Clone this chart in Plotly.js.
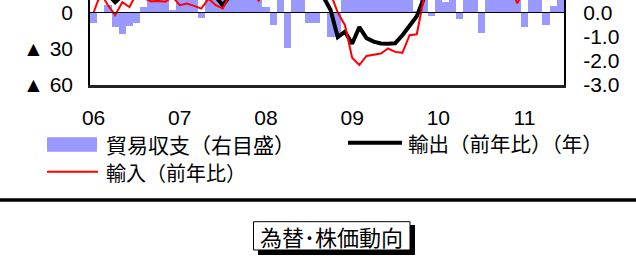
<!DOCTYPE html>
<html><head><meta charset="utf-8">
<script src="https://cdn.plot.ly/plotly-3.0.1.min.js"></script>
<style>
html,body{margin:0;padding:0;overflow:hidden;background:#fff;width:636px;height:260px;}
#chart{position:absolute;left:0;top:-100px;width:636px;height:360px;}
</style></head><body><div id="chart"></div>
<script>
const months = [
 '2006/01','2006/02','2006/03','2006/04','2006/05','2006/06','2006/07','2006/08','2006/09','2006/10','2006/11','2006/12',
 '2007/01','2007/02','2007/03','2007/04','2007/05','2007/06','2007/07','2007/08','2007/09','2007/10','2007/11','2007/12',
 '2008/01','2008/02','2008/03','2008/04','2008/05','2008/06','2008/07','2008/08','2008/09','2008/10','2008/11','2008/12',
 '2009/01','2009/02','2009/03','2009/04','2009/05','2009/06','2009/07','2009/08','2009/09','2009/10','2009/11','2009/12',
 '2010/01','2010/02','2010/03','2010/04','2010/05','2010/06','2010/07','2010/08','2010/09','2010/10','2010/11','2010/12',
 '2011/01','2011/02','2011/03','2011/04','2011/05','2011/06'];

// 貿易収支（右目盛）
const tradeBalance = [
 -0.44, 0.02, 0.30, -0.60, -0.88, -0.55, -0.42, 0.23, 0.75, 0.90, 0.80, 0.10,
  0.85, 0.90, 0.95, -0.21, 0.70, 1.00, 0.90, 1.05, 0.95, 1.10, 0.90, 0.80,
  0.23, -0.50, 0.80, -1.46, 0.70, 0.60, -0.45, -0.43, 0.00, -1.00, -1.00, 0.70,
  0.80, 0.90, 0.85, 0.90, 0.95, 0.80, 0.85, 0.90, 0.75, 0.08, 0.70, -0.14,
  0.80, 0.43, 0.90, -0.28, 0.80, 0.90, -0.84, 0.80, 0.90, 0.85, 0.90, 0.80,
 -0.60, 0.90, 0.80, -0.52, 0.26, 0.70];

// 輸出（前年比）
const exportsYoY = [
 18, 22, 15, 8.5, 14, 20, 16, 18, 20, 15, 17, 14,
 16, 14, 18, 20, 15, 13, 6, 14, 18, 16, 13, 17,
 15, 14, 18, 14, 13, 16, 17, 15, 13, 2, -20.4, -15.9,
 -25.8, -12.1, -21.2, -24.1, -25.6, -25.8, -25.4, -18.8, -10.5, -3.1, 12, 25,
 35, 40, 38, 33, 28, 25, 20, 18, 16, 15, 18, 14,
 13, 15, 13, 16, 18, 14];

// 輸入（前年比）
const importsYoY = [
 0, 16, 6, -2.2, 8.5, 4.5, 16, 12, 9.2, 9.6, 9.0, 13,
 6, 7.4, 5.5, 3.2, 11.5, 6, 3.3, 16, 18, 15, 17, 9.8,
 20, 22, 25, 18, 22, 28, 30, 24, 20, 15.7, 0, -10.5,
 -37.4, -43.5, -36, -35.3, -34, -29.8, -32.6, -33.4, -18.8, -18, 12, 25,
 35, 40, 38, 32, 30, 28, 25, 22, 20, 18, 22, 7.5,
 20, 18, 15, 14, 16, 18];

const yearTicks = ['2006/01','2007/01','2008/01','2009/01','2010/01','2011/01'];
const yearLabels = ['06','07','08','09','10','11'];
const leftTickVals = [-60, -30, 0];
const leftTickText = ['▲ 60', '▲ 30', '0'];
const rightTickVals = [-3, -2, -1, 0];
const rightTickText = ['-3.0', '-2.0', '-1.0', '0.0'];

const LATIN = 'Liberation Sans, Arial, DejaVu Sans, sans-serif';
const CJK = 'Noto Sans CJK JP, sans-serif';

// page-pixel -> paper helpers (plot area: x 90..564, y -60..85 on the page)
const PL = 90, PW = 474, PB = 85, PH = 145;
const px = x => (x - PL) / PW;
const py = y => (PB - y) / PH;

const traces = [
 {type:'bar', x: months, y: tradeBalance, yaxis:'y', name:'貿易収支（右目盛）',
  marker:{color:'#9999FF', line:{width:0}}},
 {type:'scatter', mode:'lines', x: months, y: exportsYoY, yaxis:'y2', name:'輸出（前年比）',
  line:{color:'#000000', width:4}},
 {type:'scatter', mode:'lines', x: months, y: importsYoY, yaxis:'y2', name:'輸入（前年比）',
  line:{color:'#FF0000', width:2}}
];

const layout = {
 width:636, height:360,
 margin:{l:90, r:72, t:40, b:175, pad:0},
 paper_bgcolor:'#fff', plot_bgcolor:'#fff',
 showlegend:false, hovermode:false, bargap:0,
 font:{family:LATIN, size:21, color:'#000'},
 xaxis:{type:'category', tickvals:yearTicks, ticktext:yearLabels, ticks:'',
   showgrid:false, zeroline:false, showline:true, linecolor:'#222', linewidth:3, mirror:true,
   ticklabelstandoff:12, tickfont:{family:LATIN, size:21, color:'#000'}},
 yaxis:{side:'right', range:[-3,3], tickvals:rightTickVals, ticktext:rightTickText, ticks:'',
   showgrid:false, zeroline:false, showline:true, linecolor:'#000', linewidth:2, mirror:true,
   ticklabelstandoff:13, tickfont:{family:LATIN, size:21, color:'#000'}},
 yaxis2:{overlaying:'y', side:'left', range:[-60,60], tickvals:leftTickVals, ticktext:leftTickText, ticks:'',
   showgrid:false, zeroline:false, showline:false,
   ticklabelstandoff:16, tickfont:{family:LATIN, size:21, color:'#000'}},
 shapes:[
  {type:'line', xref:'paper', yref:'y', x0:0, x1:1, y0:0, y1:0, line:{color:'#000', width:1}, layer:'above'},
  {type:'rect', xref:'paper', yref:'paper', x0:px(47), x1:px(97), y0:py(151.7), y1:py(137.3), fillcolor:'#9999FF', line:{width:0}},
  {type:'line', xref:'paper', yref:'paper', x0:px(348), x1:px(402), y0:py(142.7), y1:py(142.7), line:{color:'#000', width:4}},
  {type:'line', xref:'paper', yref:'paper', x0:px(47), x1:px(98), y0:py(171.7), y1:py(171.7), line:{color:'#FF0000', width:2}},
  {type:'line', xref:'paper', yref:'paper', x0:px(0), x1:px(636), y0:py(200), y1:py(200), line:{color:'#000', width:3.5}},
  {type:'rect', xref:'paper', yref:'paper', x0:px(258), x1:px(415), y0:py(255), y1:py(225), fillcolor:'#000', line:{width:0}},
  {type:'rect', xref:'paper', yref:'paper', x0:px(253.5), x1:px(410), y0:py(250), y1:py(221.7), fillcolor:'#fff', line:{color:'#000', width:1}}
 ],
 annotations:[
  {xref:'paper', yref:'paper', x:px(104), y:py(144), xanchor:'left', yanchor:'middle', showarrow:false,
   text:'貿易収支（右目盛）', font:{family:CJK, size:21, color:'#000'}},
  {xref:'paper', yref:'paper', x:px(406), y:py(143), xanchor:'left', yanchor:'middle', showarrow:false,
   text:'輸出（前年比）（年）', font:{family:CJK, size:20.5, color:'#000'}},
  {xref:'paper', yref:'paper', x:px(104), y:py(172.5), xanchor:'left', yanchor:'middle', showarrow:false,
   text:'輸入（前年比）', font:{family:CJK, size:20, color:'#000'}},
  {xref:'paper', yref:'paper', x:px(331.7), y:py(236), xanchor:'center', yanchor:'middle', showarrow:false,
   text:'為替･株価動向', font:{family:CJK, size:22, color:'#000'}}
 ]
};

Plotly.newPlot('chart', traces, layout, {staticPlot:true, displayModeBar:false});
</script></body></html>
